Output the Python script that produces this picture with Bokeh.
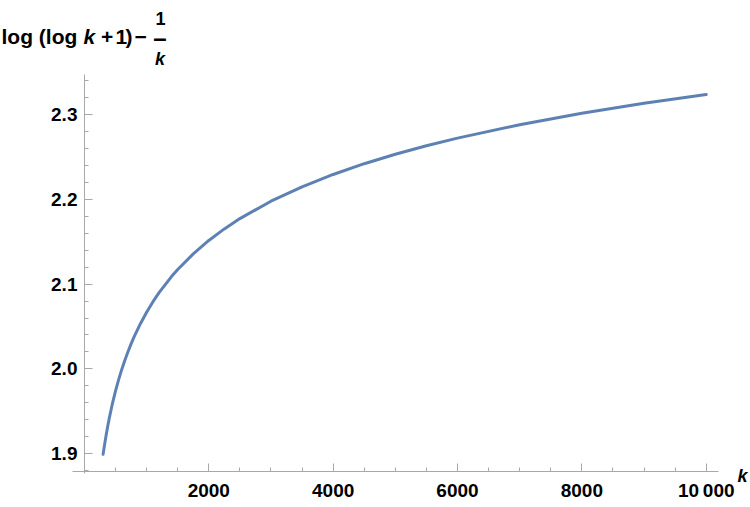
from bokeh.plotting import figure
from bokeh.models import Range1d, FixedTicker, Label, LinearAxis, PrintfTickFormatter
from bokeh.embed import file_html
from bokeh.resources import INLINE

# values
k_vals = [300, 325, 350, 375, 400, 450, 500, 550, 600, 650, 700, 750, 800, 900,
          1000, 1100, 1200, 1400, 1500, 1750, 2000, 2250, 2500, 3000, 3500, 4000,
          4500, 5000, 5500, 6000, 7000, 8000, 9000, 10000]
f_vals = [1.8994, 1.9114, 1.9225, 1.9327, 1.9422, 1.9592, 1.9741, 1.9874, 1.9994,
          2.0103, 2.0203, 2.0295, 2.0380, 2.0533, 2.0668, 2.0789, 2.0898, 2.1088,
          2.1171, 2.1356, 2.1514, 2.1650, 2.1771, 2.1976, 2.2146, 2.2291, 2.2418,
          2.2529, 2.2629, 2.2719, 2.2877, 2.3012, 2.3130, 2.3233]
x_major = [2000, 4000, 6000, 8000, 10000]
x_minor = [500, 1000, 1500, 2500, 3000, 3500, 4500, 5000, 5500, 6500, 7000, 7500,
           8500, 9000, 9500]
y_major = [1.9, 2.0, 2.1, 2.2, 2.3]
y_minor = [1.88, 1.92, 1.94, 1.96, 1.98, 2.02, 2.04, 2.06, 2.08, 2.12, 2.14, 2.16,
           2.18, 2.22, 2.24, 2.26, 2.28, 2.32, 2.34]
x_labels = {10000: "10\u2009000"}

W, H = 750, 507
# pixel layout of the reference
KX0_PX, KX_PER_1000 = 83.95, 62.175      # px of k=0, px per 1000
Y23_PX, Y_PER_UNIT = 113.8, 848.75       # px of y=2.3, px per unit


def dx(px):
    return (px - KX0_PX) / KX_PER_1000 * 1000


def dy(py):
    return 2.3 + (Y23_PX - py) / Y_PER_UNIT


p = figure(width=W, height=H, output_backend="svg", toolbar_location=None,
           x_range=Range1d(dx(0), dx(W)), y_range=Range1d(dy(H), dy(0)),
           x_axis_location=None, y_axis_location=None,
           min_border=0, min_border_left=0, min_border_right=0,
           min_border_top=0, min_border_bottom=0)
p.outline_line_color = None
p.grid.visible = False
p.background_fill_color = "white"
p.border_fill_color = "white"

p.line(k_vals, f_vals, line_color="#5E81B5", line_width=3, line_join="round",
       line_cap="round")

FONT = "Liberation Sans"
AX = "#a8a8a8"
xaxis = LinearAxis(fixed_location=dy(470.7), bounds=(dx(71.7), dx(718)),
                   ticker=FixedTicker(ticks=x_major, minor_ticks=x_minor))
yaxis = LinearAxis(fixed_location=0, bounds=(dy(473), dy(74.3)),
                   ticker=FixedTicker(ticks=y_major, minor_ticks=y_minor),
                   formatter=PrintfTickFormatter(format="%.1f"))
for ax in (xaxis, yaxis):
    ax.axis_line_color = AX
    ax.major_tick_line_color = AX
    ax.minor_tick_line_color = AX
    ax.major_tick_in = 8
    ax.major_tick_out = 0
    ax.minor_tick_in = 4
    ax.minor_tick_out = 0
    ax.major_label_text_font = FONT
    ax.major_label_text_font_style = "bold"
    ax.major_label_text_font_size = "19px"
    ax.major_label_text_color = "black"
xaxis.major_label_overrides = x_labels
xaxis.major_label_standoff = 9
yaxis.major_label_standoff = 7
p.add_layout(xaxis, "below")
p.add_layout(yaxis, "left")


def lab(text, px, py, size="21px", style="bold", align="left"):
    p.add_layout(Label(x=dx(px), y=dy(py), text=text, text_font=FONT,
                       text_font_size=size, text_font_style=style,
                       text_align=align, text_baseline="alphabetic",
                       text_color="black"))


# y-axis title: log (log k + 1) - 1/k
lab("log (log", 1, 36)
lab("k", 83, 36, style="bold italic")
lab("+", 100.5, 36)
lab("1", 115, 36)
lab(")", 125, 36)
lab("\u2212", 134, 36)
lab("1", 160, 18, size="18px", align="center")
lab("\u2013", 159.5, 37, size="24px", align="center")
lab("k", 159.5, 58, size="18px", style="bold italic", align="center")

# x-axis title
lab("k", 742, 475, size="18px", style="bold italic", align="center")

open("out.html", "w").write(file_html(p, INLINE))
